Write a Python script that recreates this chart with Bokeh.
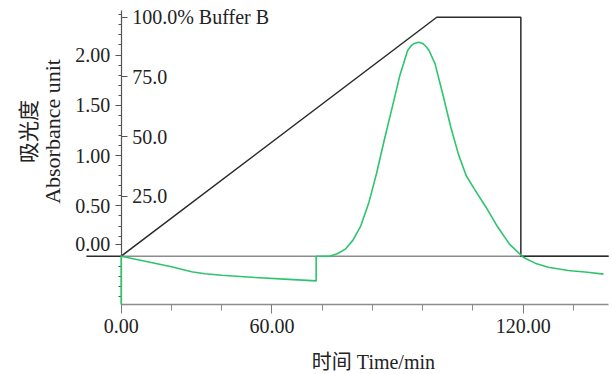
from math import pi
from bokeh.plotting import figure
from bokeh.models import Range1d, LinearAxis, FixedTicker, Label, PrintfTickFormatter
from bokeh.core.properties import value
from bokeh.embed import file_html
from bokeh.resources import INLINE

# ---------------- data ----------------
# UV absorbance trace (green)
uv_time = [0, 0, 5, 10, 15, 18, 21, 25, 30, 40, 50, 58.2, 58.2, 62.2, 64.5, 66.9,
           69.2, 71.5, 73.9, 76.2, 78.5, 80.9, 83.2, 85.5, 86.5, 87.5, 88.8, 90.0, 91.0,
           91.9, 93.7, 96.0, 98.4, 100.7, 103.0, 105.4, 108.9, 112.4, 115.9, 120.0, 124.0,
           127.5, 133.4, 139.2, 144.0]
uv_abs = [-0.48, 0, -0.035, -0.07, -0.105, -0.13, -0.155, -0.175, -0.19, -0.212, -0.23,
          -0.245, 0, 0, 0.024, 0.07, 0.16, 0.30, 0.53, 0.82, 1.15, 1.48, 1.80, 2.045,
          2.09, 2.115, 2.127, 2.115, 2.085, 2.045, 1.912, 1.61, 1.282, 1.01, 0.80, 0.67,
          0.487, 0.29, 0.12, -0.01, -0.076, -0.109, -0.142, -0.159, -0.178]

# Buffer B gradient (black)
bp_time = [-10.4, 0, 94.2, 119.3, 119.3, 145.5]
bp_pct = [0, 0, 100, 100, 0, 0]

# axes extents / ticks
t_axis_end = 145.5
abs_axis_bottom = -0.4836
abs_axis_top = 2.445
x_major = [0, 45, 120]
x_minor = [15, 30, 60, 75, 90, 105, 135]
x_overrides = {45: "60.00"}
y_major = [0.12, 0.5, 1.0, 1.5, 2.0]
y_overrides = {0.12: "0.00"}
y_minor = [-0.4, -0.3, -0.2, -0.1, 0.2, 0.3, 0.4, 0.6, 0.7, 0.8, 0.9, 1.1, 1.2, 1.3,
           1.4, 1.6, 1.7, 1.8, 1.9, 2.1, 2.2, 2.3, 2.4]
pct_ticks = [25, 50, 75, 100]
pct_labels = ["25.0", "50.0", "75.0", "100.0% Buffer B"]

y_title_cn = "吸光度"
y_title_en = "Absorbance unit"
x_title = "时间 Time/min"

# ---------------- figure ----------------
FONT = "'Liberation Serif', 'Noto Sans CJK SC', serif"
TXT = "#222222"

p = figure(width=612, height=374, output_backend="svg", toolbar_location=None,
           x_range=Range1d(-36.03, 146.66), y_range=Range1d(-1.176, 2.542),
           x_axis_location=None, y_axis_location=None, min_border=0,
           min_border_left=0, min_border_right=0, min_border_top=0, min_border_bottom=0)
p.extra_y_ranges = {"pct": Range1d(-49.5, 107.0)}
p.grid.visible = False
p.outline_line_color = None
p.background_fill_color = "white"
p.border_fill_color = "white"

# x axis (time)
xa = LinearAxis(ticker=FixedTicker(ticks=x_major, minor_ticks=x_minor),
                formatter=PrintfTickFormatter(format="%.2f"),
                fixed_location=abs_axis_bottom, bounds=(0, t_axis_end))
xa.major_label_overrides = x_overrides
xa.axis_line_color = "#8c8c8c"
xa.axis_line_width = 1.5
xa.major_tick_line_color = "#7a7a7a"
xa.minor_tick_line_color = "#8c8c8c"
xa.major_tick_out = 9
xa.major_tick_in = 0
xa.minor_tick_out = 6
xa.minor_tick_in = 0
xa.major_label_standoff = 5
xa.major_label_text_font = FONT
xa.major_label_text_font_size = "20px"
xa.major_label_text_color = TXT
p.add_layout(xa, "below")

# absorbance axis
ya = LinearAxis(ticker=FixedTicker(ticks=y_major, minor_ticks=y_minor),
                formatter=PrintfTickFormatter(format="%.2f"),
                fixed_location=0, bounds=(abs_axis_bottom, abs_axis_top))
ya.major_label_overrides = y_overrides
ya.axis_line_color = "#555555"
ya.axis_line_width = 1.2
ya.major_tick_line_color = "#555555"
ya.minor_tick_line_color = "#555555"
ya.major_tick_out = 6
ya.major_tick_in = 0
ya.minor_tick_out = 3
ya.minor_tick_in = 0
ya.major_label_standoff = 5
ya.major_label_text_font = FONT
ya.major_label_text_font_size = "20px"
ya.major_label_text_color = TXT
p.add_layout(ya, "left")

# %B axis ticks (pointing inside)
pa = LinearAxis(y_range_name="pct", ticker=FixedTicker(ticks=pct_ticks, minor_ticks=[]),
                fixed_location=0)
pa.axis_line_color = None
pa.major_tick_line_color = "#555555"
pa.major_tick_in = 6
pa.major_tick_out = 0
pa.minor_tick_out = 0
pa.minor_tick_in = 0
pa.major_label_text_font_size = "0px"
pa.major_label_text_alpha = 0
p.add_layout(pa, "left")

# zero baseline
p.segment(x0=[0], y0=[0], x1=[t_axis_end], y1=[0], line_color="#8c8c8c", line_width=1.5)

# gradient line
p.line(bp_time, bp_pct, y_range_name="pct", line_color="#2b2b2b", line_width=1.5)

# UV trace
p.line(uv_time, uv_abs, line_color="#2ec46e", line_width=1.6, level="overlay")

# %B labels
p.text(x=[0] * len(pct_ticks), y=pct_ticks, text=pct_labels, y_range_name="pct",
       x_offset=11, text_align="left", text_baseline="middle",
       text_font=value(FONT), text_font_size=value("20px"), text_color=TXT)

# titles
p.add_layout(Label(x=-27.5, y=1.24, text=y_title_cn, angle=pi / 2,
                   text_align="center", text_baseline="middle",
                   text_font=FONT, text_font_size="21px", text_color=TXT))
p.add_layout(Label(x=-20.6, y=1.24, text=y_title_en, angle=pi / 2,
                   text_align="center", text_baseline="middle",
                   text_font=FONT, text_font_size="22px", text_color=TXT))
p.add_layout(Label(x=75.3, y=-1.054, text=x_title,
                   text_align="center", text_baseline="middle",
                   text_font=FONT, text_font_size="20px", text_color=TXT))

open("out.html", "w").write(file_html(p, INLINE))
